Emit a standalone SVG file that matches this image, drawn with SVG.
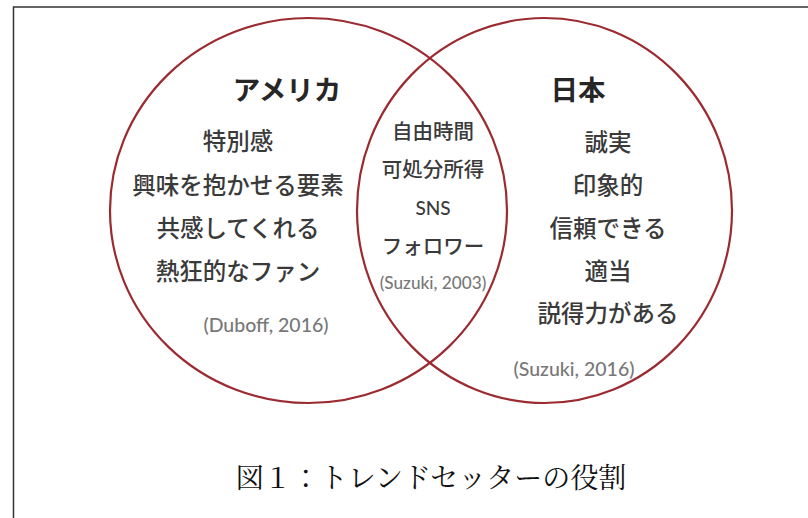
<svg xmlns="http://www.w3.org/2000/svg" width="808" height="518" viewBox="0 0 808 518">
<style>
.frame{stroke:#333;stroke-width:1.5;fill:none}
.circ{fill:none;stroke:#9b2b31;stroke-width:2.2}
.jp{font-family:"Noto Sans CJK JP","Noto Sans",sans-serif;fill:#3a3a3a;text-anchor:middle;font-weight:500}
.title{font-family:"Noto Sans CJK JP","Noto Sans",sans-serif;font-weight:bold;fill:#262626;text-anchor:middle;font-size:27.5px}
.item{font-size:23.5px}
.mid{font-size:20.5px}
.lat{font-family:Lato,"Open Sans",sans-serif;text-anchor:middle;font-weight:500}
.ref{fill:#787878;font-size:19.5px}
.ref-s{font-size:17.2px}
.cap{font-family:"Noto Serif CJK JP","Liberation Serif","Noto Sans CJK JP",serif;font-size:28px;fill:#111;text-anchor:middle}
</style>
<rect width="808" height="518" fill="#ffffff"/>
<path class="frame" d="M13.5 518 V7 H808"/>
<g id="sets">
<ellipse id="america-circle" class="circ" cx="308.5" cy="210.5" rx="198.5" ry="192.5"/>
<ellipse id="japan-circle" class="circ" cx="544.5" cy="210.5" rx="187.5" ry="192.5"/>
</g>
<g id="america">
<text class="title" x="287" y="100">アメリカ</text>
<text class="jp item" x="238" y="150">特別感</text>
<text class="jp item" x="238" y="194">興味を抱かせる要素</text>
<text class="jp item" x="238" y="237">共感してくれる</text>
<text class="jp item" x="238" y="280">熱狂的なファン</text>
<text class="lat ref" x="266" y="332">(Duboff, 2016)</text>
</g>
<g id="overlap">
<text class="jp mid" x="433" y="139">自由時間</text>
<text class="jp mid" x="433" y="177">可処分所得</text>
<text class="lat" x="433" y="215" font-size="19" fill="#3a3a3a" font-weight="600">SNS</text>
<text class="jp mid" x="433" y="254">フォロワー</text>
<text class="lat ref ref-s" x="433" y="289">(Suzuki, 2003)</text>
</g>
<g id="japan">
<text class="title" x="578" y="100">日本</text>
<text class="jp item" x="608" y="151">誠実</text>
<text class="jp item" x="608" y="194">印象的</text>
<text class="jp item" x="608" y="237">信頼できる</text>
<text class="jp item" x="608" y="280">適当</text>
<text class="jp item" x="608" y="322">説得力がある</text>
<text class="lat ref" x="574" y="376">(Suzuki, 2016)</text>
</g>
<g id="caption">
<text class="cap" x="431" y="488">図１：トレンドセッターの役割</text>
</g>
</svg>
